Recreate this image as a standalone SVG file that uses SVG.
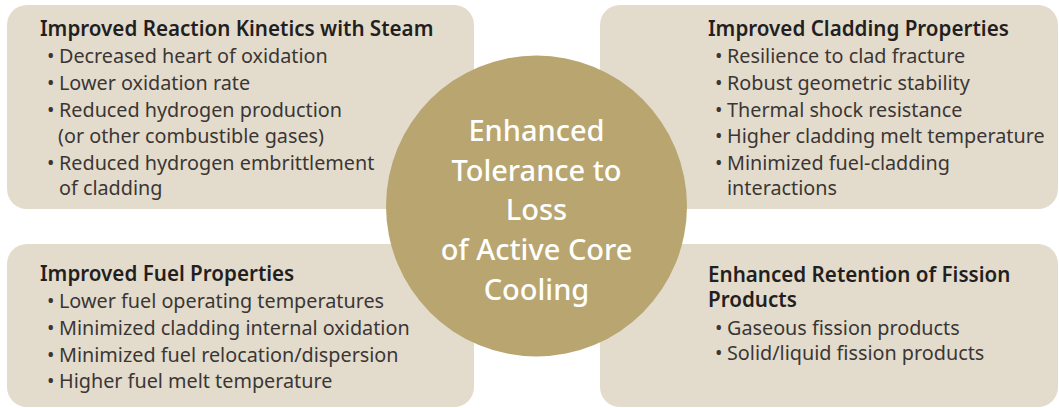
<svg xmlns="http://www.w3.org/2000/svg" width="1059" height="408" viewBox="0 0 1059 408">
  <style>
    .box { fill: #e3dccd; }
    .hub { fill: #b8a56f; }
    .title { font-family: "Noto Sans", "Liberation Sans", sans-serif; font-size: 20.6px; font-weight: 600; fill: #231f20; }
    .item { font-family: "Noto Sans", "Liberation Sans", sans-serif; font-size: 19.8px; fill: #3b3634; }
    .hubtext { font-family: "Noto Sans", "Liberation Sans", sans-serif; font-size: 29px; font-weight: 500; fill: #ffffff; text-anchor: middle; }
  </style>
  <rect width="1059" height="408" fill="#ffffff"/>

  <g id="reaction-kinetics">
    <rect class="box" x="7" y="5" width="467" height="204" rx="20"/>
    <text class="title" x="40" y="36">Improved Reaction Kinetics with Steam</text>
    <text class="item" x="47" y="63">•</text><text class="item" x="59" y="63">Decreased heart of oxidation</text>
    <text class="item" x="47" y="90">•</text><text class="item" x="59" y="90">Lower oxidation rate</text>
    <text class="item" x="47" y="117">•</text><text class="item" x="59" y="117">Reduced hydrogen production</text>
    <text class="item" x="58" y="143">(or other combustible gases)</text>
    <text class="item" x="47" y="170">•</text><text class="item" x="59" y="170">Reduced hydrogen embrittlement</text>
    <text class="item" x="59" y="195">of cladding</text>
  </g>

  <g id="cladding-properties">
    <rect class="box" x="600" y="5" width="458" height="204" rx="20"/>
    <text class="title" x="708" y="36">Improved Cladding Properties</text>
    <text class="item" x="715" y="63">•</text><text class="item" x="727" y="63">Resilience to clad fracture</text>
    <text class="item" x="715" y="90">•</text><text class="item" x="727" y="90">Robust geometric stability</text>
    <text class="item" x="715" y="117">•</text><text class="item" x="727" y="117">Thermal shock resistance</text>
    <text class="item" x="715" y="143">•</text><text class="item" x="727" y="143">Higher cladding melt temperature</text>
    <text class="item" x="715" y="170">•</text><text class="item" x="727" y="170">Minimized fuel-cladding</text>
    <text class="item" x="727" y="195">interactions</text>
  </g>

  <g id="fuel-properties">
    <rect class="box" x="7" y="244" width="467" height="163" rx="20"/>
    <text class="title" x="40" y="281">Improved Fuel Properties</text>
    <text class="item" x="47" y="308">•</text><text class="item" x="59" y="308">Lower fuel operating temperatures</text>
    <text class="item" x="47" y="335">•</text><text class="item" x="59" y="335">Minimized cladding internal oxidation</text>
    <text class="item" x="47" y="362">•</text><text class="item" x="59" y="362">Minimized fuel relocation/dispersion</text>
    <text class="item" x="47" y="388">•</text><text class="item" x="59" y="388">Higher fuel melt temperature</text>
  </g>

  <g id="fission-products">
    <rect class="box" x="600" y="244" width="458" height="163" rx="20"/>
    <text class="title" x="708" y="282">Enhanced Retention of Fission<tspan x="708" dy="25.3">Products</tspan></text>
    <text class="item" x="715" y="335">•</text><text class="item" x="727" y="335">Gaseous fission products</text>
    <text class="item" x="715" y="360">•</text><text class="item" x="727" y="360">Solid/liquid fission products</text>
  </g>

  <g id="connectors"></g>

  <g id="core-cooling">
    <circle class="hub" cx="536.5" cy="206" r="150.5"/>
    <text class="hubtext" x="536.5" y="141">Enhanced</text>
    <text class="hubtext" x="536.5" y="181">Tolerance to</text>
    <text class="hubtext" x="536.5" y="220">Loss</text>
    <text class="hubtext" x="536.5" y="260">of Active Core</text>
    <text class="hubtext" x="536.5" y="300">Cooling</text>
  </g>
</svg>
